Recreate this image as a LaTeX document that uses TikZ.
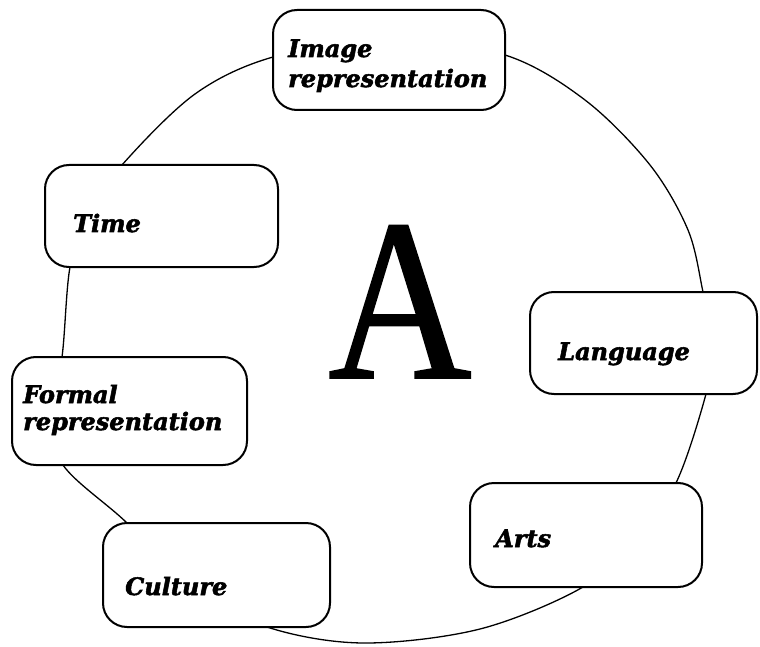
\documentclass[tikz,border=0pt]{standalone}
\usepackage{fontspec}
\newfontfamily\labelfont{DejaVu Serif}[FakeBold=2.2]
\newfontfamily\letterfont{Liberation Serif}[FakeBold=0.8]
\begin{document}
\begin{tikzpicture}[x=1pt,y=-1pt,
  box/.style={draw, line width=2pt, rounded corners=24pt, fill=white, inner sep=0pt},
  lbl/.style={font=\labelfont\bfseries\itshape\fontsize{24}{30}\selectfont, inner sep=0pt, anchor=base west},
  ring/.style={line width=1.3pt}]
\useasboundingbox (0,0) rectangle (760,647);
% ring
\draw[ring] plot[smooth cycle, tension=0.55] coordinates {
  (389,38) (505,55) (585,100) (650,165) (688,230) (703,292) (713,345) (706,394) (675,485)
  (632,540) (583,587) (480,629) (363,643) (267,627) (185,585) (127,523)
  (63,465) (50,410) (62,357) (70,267) (88,215) (122,165) (195,94) (273,57)};
% boxes
\node[box, minimum width=232pt, minimum height=100pt] (img) at (389,60) {};
\node[box, minimum width=233pt, minimum height=102pt] (time) at (161.5,216) {};
\node[box, minimum width=227pt, minimum height=102pt] (lang) at (643.5,343) {};
\node[box, minimum width=235pt, minimum height=108pt] (formal) at (129.5,411) {};
\node[box, minimum width=227pt, minimum height=104pt] (cult) at (216.5,575) {};
\node[box, minimum width=232pt, minimum height=104pt] (arts) at (586,535) {};
% labels
\node[lbl] (imgA) at (288,57) {Image};
\node[lbl] (imgB) at (288,87) {representation};
\node[lbl] (timeT) at (73,232) {Time};
\node[lbl] (langT) at (558,360) {Language};
\node[lbl] (formA) at (23,403) {Formal};
\node[lbl] (formB) at (23,430) {representation};
\node[lbl] (cultT) at (125,595) {Culture};
\node[lbl] (artsT) at (495,547) {Arts};
% big letter
\node[font=\letterfont\fontsize{231}{231}\selectfont, inner sep=0pt, anchor=base] (bigA) at (400,378) {\scalebox{0.86}[1]{A}};
\end{tikzpicture}
\end{document}
